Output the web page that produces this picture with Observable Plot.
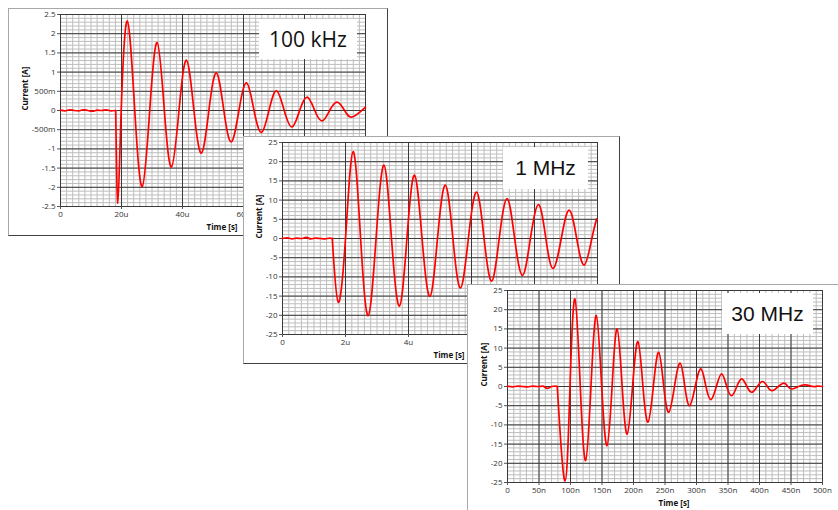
<!DOCTYPE html>
<html><head><meta charset="utf-8">
<script src="https://cdn.jsdelivr.net/npm/d3@7"></script>
<script src="https://cdn.jsdelivr.net/npm/@observablehq/plot@0.6"></script>
<style>
body{margin:0;background:#fff;}
#wrap{position:relative;width:838px;height:510px;overflow:hidden;background:#fff;}
.panel{position:absolute;background:#fff;border-top:1px solid #a8a8a8;border-left:1px solid #a8a8a8;border-right:1px solid #404040;border-bottom:1px solid #404040;}
.panel svg{position:absolute;left:0;top:0;}
.tag{position:absolute;background:#fff;display:flex;align-items:center;justify-content:center;color:#111;white-space:nowrap;}
</style></head><body><div id="wrap"></div>
<script>
// ---- 100 kHz (time in µs, current in A)
const t1 = [0,1.5,3,4.5,6,7.5,9,10.5,12,13.5,15,16.5,18.1,18.8,19.9,21.9,24.35,26.8,29.25,31.7,34.05,36.4,38.85,41.3,43.75,46.2,48.65,51.1,53.55,56.0,58.5,61.0,63.45,65.9,68.35,70.8,73.35,75.9,78.4,80.9,83.35,85.8,88.25,90.7,93.15,95.6,100];
const i1 = [0.01,-0.01,0.02,0,-0.01,0.02,0,-0.02,0.01,0,0.02,-0.01,0,-2.41,0,2.33,0,-1.98,0,1.77,0,-1.47,0,1.31,0,-1.11,0,0.98,0,-0.82,0,0.72,0,-0.57,0,0.51,0,-0.43,0,0.35,0,-0.27,0,0.22,0,-0.17,0.09];
const onset1 = 18.1;
const xTicks1 = [0,20,40,60,80,100];
const xLabels1 = ["0","20u","40u","60u","80u","100u"];
const yTicks1 = [-2.5,-2,-1.5,-1,-0.5,0,0.5,1,1.5,2,2.5];
const yLabels1 = ["-2.5","-2","-1.5","-1","-500m","0","500m","1","1.5","2","2.5"];

// ---- 1 MHz (time in µs)
const t2 = [0,0.15,0.3,0.45,0.6,0.75,0.9,1.05,1.2,1.35,1.5,1.58,1.77,2.0,2.24,2.48,2.72,2.97,3.22,3.46,3.71,3.95,4.19,4.43,4.68,4.92,5.17,5.41,5.65,5.9,6.16,6.4,6.64,6.88,7.13,7.37,7.62,7.87,8.13,8.36,8.59,8.85,9.1,9.34,9.58,9.82,9.97];
const i2 = [0,0.2,-0.1,0.1,0,0.3,-0.1,0.1,0,-0.1,0.1,0,-16.6,0,22.6,0,-20.1,0,19.1,0,-17.6,0,16.5,0,-15.1,0,13.9,0,-12.9,0,12.1,0,-11.1,0,10.4,0,-9.6,0,8.8,0,-7.8,0,7.4,0,-6.9,0,5.1];
const onset2 = 1.58;
const xTicks2 = [0,2,4,6,8,10];
const xLabels2 = ["0","2u","4u","6u","8u","10u"];

// ---- 30 MHz (time in ns)
const t3 = [0,8,16,24,32,40,48,56,63,70,76,79,91.4,99.2,107,115.5,124,132.5,141,149.5,158,166,174,182,190,198.5,207,215,223,231.5,240,248,256,265,274,281.5,289,298,307,315,323,331.5,340,348,356,364,372,380,388,396.5,405,412.5,420,430,439,445,452,462,473,485,492,500];
const i3 = [0.1,-0.1,0.1,0,-0.1,0.1,0,0.1,-0.5,0,0.1,0,-24.6,0,22.8,0,-19.3,0,18.5,0,-15.4,0,15,0,-12.4,0,11.7,0,-9.3,0,8.9,0,-6.7,0,6.1,0,-5,0,4.6,0,-3.4,0,3.3,0,-2.4,0,2.0,0,-1.5,0,1.3,0,-1.1,0,0.9,0,-0.65,0,0.4,0,0.1,0];
const onset3 = 79;
const xTicks3 = [0,50,100,150,200,250,300,350,400,450,500];
const xLabels3 = ["0","50n","100n","150n","200n","250n","300n","350n","400n","450n","500n"];

const yTicks23 = [-25,-20,-15,-10,-5,0,5,10,15,20,25];
const yLabels23 = ["-25","-20","-15","-10","-5","0","5","10","15","20","25"];

const tags = ["100 kHz","1 MHz","30 MHz"];

function panel(cfg){
  const data = cfg.t.map((t,k)=>({t, v: cfg.v[k]}));
  const flat = data.filter(d => d.t <= cfg.onset);
  const osc = data.filter(d => d.t >= cfg.onset);
  const [x0,x1] = cfg.xDomain, [y0,y1] = cfg.yDomain;
  const minorX = d3.range(x0, x1 + cfg.xMinor/2, cfg.xMinor);
  const minorY = d3.range(y0, y1 + cfg.yMinor/2, cfg.yMinor);
  const div = document.createElement("div");
  div.className = "panel";
  Object.assign(div.style, {left: cfg.left+"px", top: cfg.top+"px", width: cfg.w+"px", height: cfg.h+"px"});
  const svg = Plot.plot({
    width: cfg.w, height: cfg.h,
    marginLeft: cfg.ml, marginRight: 22, marginTop: 5, marginBottom: 29,
    style: {background: "transparent", fontFamily: "'Open Sans', sans-serif", fontSize: "8px", color: "#333", overflow: "visible"},
    x: {domain: cfg.xDomain, axis: null},
    y: {domain: cfg.yDomain, axis: null},
    marks: [
      Plot.ruleX(minorX, {stroke: "#bdbdbd", strokeWidth: 1}),
      Plot.ruleY(minorY, {stroke: "#bdbdbd", strokeWidth: 1}),
      Plot.ruleX(cfg.xTicks, {stroke: "#3a3a3a", strokeWidth: 1}),
      Plot.ruleY(cfg.yTicks, {stroke: "#3a3a3a", strokeWidth: 1}),
      Plot.axisX({ticks: cfg.xTicks, tickFormat: d => cfg.xLabels[cfg.xTicks.indexOf(d)], tickSize: 3, tickPadding: 2, label: null, stroke: "#555", fill: "#333"}),
      Plot.axisY({ticks: cfg.yTicks, tickFormat: d => cfg.yLabels[cfg.yTicks.indexOf(d)], tickSize: 3, tickPadding: 2, label: null, stroke: "#555", fill: "#333"}),
      Plot.line(flat, {x: "t", y: "v", stroke: "#ff0000", strokeWidth: 1.7, curve: "monotone-x"}),
      Plot.line(osc, {x: "t", y: "v", stroke: "#ff0000", strokeWidth: 1.7, curve: "natural"}),
      Plot.text(["Time [s]"], {text: d => d, frameAnchor: "bottom", lineAnchor: "middle", dx: 9, dy: 21, fontWeight: "bold", fontSize: 8, fill: "#111"}),
      Plot.text(["Current [A]"], {text: d => d, frameAnchor: "left", dx: cfg.ytdx, rotate: -90, fontWeight: "bold", fontSize: 8, fill: "#111"})
    ]
  });
  div.appendChild(svg);
  const tag = document.createElement("div");
  tag.className = "tag";
  tag.textContent = cfg.tag;
  Object.assign(tag.style, {left: cfg.tagBox[0]+"px", top: cfg.tagBox[1]+"px", width: cfg.tagBox[2]+"px", height: cfg.tagBox[3]+"px", fontFamily: cfg.tagFont, fontSize: "21px"});
  div.appendChild(tag);
  document.getElementById("wrap").appendChild(div);
}

panel({t: t1, v: i1, onset: onset1, xDomain: [0,100], yDomain: [-2.5,2.5], xTicks: xTicks1, xLabels: xLabels1, yTicks: yTicks1, yLabels: yLabels1,
  xMinor: 2, yMinor: 0.1, left: 8, top: 8, w: 378, h: 226, ml: 51, ytdx: -35,
  tag: tags[0], tagBox: [250, 10, 98, 40], tagFont: "'Open Sans', sans-serif"});
panel({t: t2, v: i2, onset: onset2, xDomain: [0,10], yDomain: [-25,25], xTicks: xTicks2, xLabels: xLabels2, yTicks: yTicks23, yLabels: yLabels23,
  xMinor: 0.2, yMinor: 1, left: 243, top: 136, w: 375, h: 226, ml: 38, ytdx: -23,
  tag: tags[1], tagBox: [259, 10, 85, 42], tagFont: "'Liberation Sans', Arial, sans-serif"});
panel({t: t3, v: i3, onset: onset3, xDomain: [0,500], yDomain: [-25,25], xTicks: xTicks3, xLabels: xLabels3, yTicks: yTicks23, yLabels: yLabels23,
  xMinor: 10, yMinor: 1, left: 467, top: 284, w: 376, h: 226, ml: 39, ytdx: -23,
  tag: tags[2], tagBox: [254, 8, 91, 41], tagFont: "'Liberation Sans', Arial, sans-serif"});
</script></body></html>
